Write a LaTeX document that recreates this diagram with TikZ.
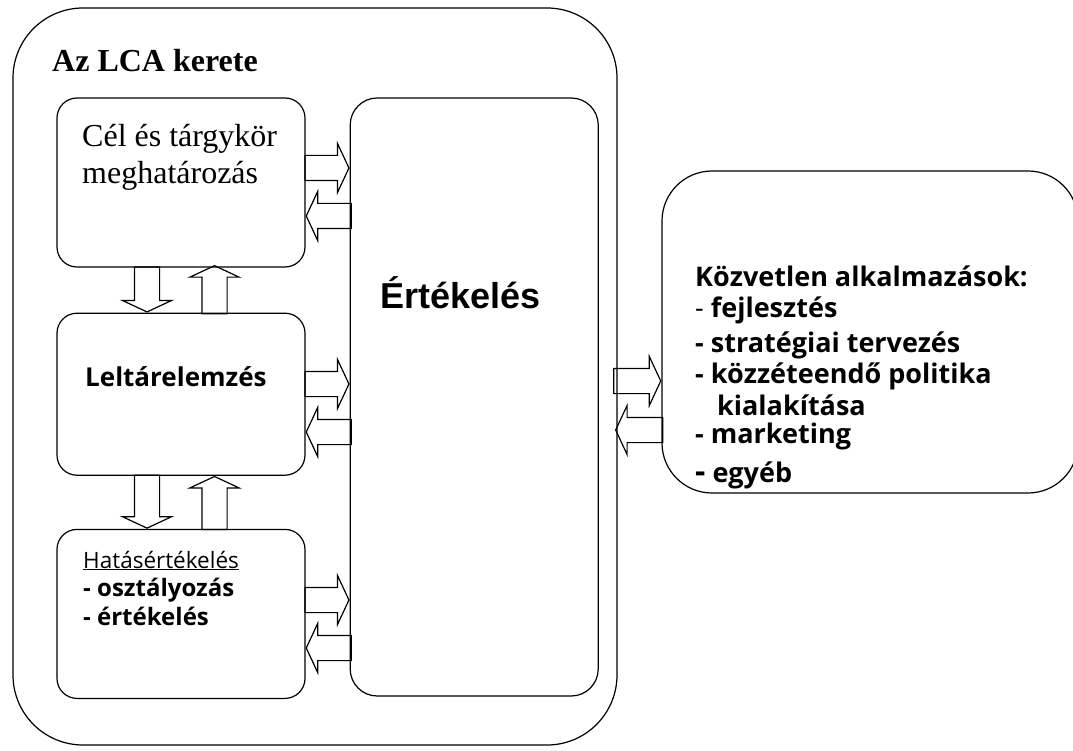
\documentclass[tikz,border=0pt]{standalone}
\usepackage{fontspec}
\setmainfont{Liberation Serif}
\newfontfamily\tahoma{Open Sans}
\newfontfamily\arialf{Liberation Sans}
\usetikzlibrary{shapes.arrows, positioning}
\tikzstyle{frame} = [rectangle, rounded corners=70pt, draw=black, line width=1.2pt, minimum width=604pt, minimum height=737pt]
\tikzstyle{normal} = [rectangle, rounded corners=20pt, draw=black, line width=1.2pt, minimum width=248pt]
\tikzstyle{txt} = [inner sep=0pt, align=left, anchor=base west]
\tikzstyle{fat} = [single arrow, draw=black, line width=1.2pt, inner sep=12pt, single arrow head extend=12pt, single arrow tip angle=130, anchor=tip]

\begin{document}
\begin{tikzpicture}[x=1pt, y=-1pt]
\useasboundingbox (0,0) rectangle (1073,751);

%% NODES

\node (frame) [frame] at (315,376.5) {};
\node (cel) [normal, minimum height=169pt] at (181,182.5) {};
\node (leltar) [normal, minimum height=162pt, below=45pt of cel] {};
\node (hatas) [normal, minimum height=169pt, below=53pt of leltar] {};
\node (ert) [normal, rounded corners=27pt, minimum height=598pt, right=44pt of cel.north east, anchor=north west] {};
\node (kozv) [normal, rounded corners=50pt, minimum width=416pt, minimum height=322pt] at (870,332) {};

% multi-line texts: base = last line
\node (title) [txt, font=\bfseries\fontsize{32}{36}\selectfont] at (52,72) {Az LCA kerete};
\node (celtxt) [txt, font=\fontsize{32}{37}\selectfont] at (82,184) {Cél és tárgykör\\meghatározás};
\node (lelttxt) [txt, font=\tahoma\bfseries\fontsize{26}{28}\selectfont] at (85,386) {Leltárelemzés};
\node (hatastxt) [txt, font=\tahoma\fontsize{24}{28.5}\selectfont] at (83,625) {\underline{\fontsize{22.5}{28.5}\selectfont Hatásértékelés}\\\textbf{- osztályozás}\\\textbf{- értékelés}};
\node (erttxt) [txt, font=\arialf\bfseries\fontsize{36}{40}\selectfont] at (380,308) {Értékelés};
\node (kozvtxt) [txt, font=\tahoma\bfseries\fontsize{27}{31}\selectfont] at (695,482) {Közvetlen alkalmazások:\\{\mdseries -} fejlesztés\\[4pt]- stratégiai tervezés\\- közzéteendő politika\\[1pt]\hspace*{22pt}kialakítása\\[-3pt]- marketing\\[8pt]{\fontsize{32}{31}\selectfont -} egyéb};

%% ARROWS

\node (c2e) [fat, minimum height=44pt] at (ert.west |- 0,168) {};
\node (e2c) [fat, minimum height=45pt, rotate=180] at (cel.east |- 0,216) {};
\node (l2e) [fat, minimum height=44pt] at (ert.west |- 0,384) {};
\node (e2l) [fat, minimum height=45pt, rotate=180] at (leltar.east |- 0,432) {};
\node (h2e) [fat, minimum height=44pt] at (ert.west |- 0,600) {};
\node (e2h) [fat, minimum height=45pt, rotate=180] at (hatas.east |- 0,648) {};

\node (c2l) [fat, minimum height=45pt, rotate=-90] at (147,0 |- leltar.north) {};
\node (l2c) [fat, minimum height=48pt, rotate=90] at (214.5,265) {};
\node (l2h) [fat, minimum height=53pt, rotate=-90] at (147,0 |- hatas.north) {};
\node (h2l) [fat, minimum height=53pt, rotate=90] at (214.5,0 |- leltar.south) {};

\node (e2k) [fat, minimum height=47pt] at (kozv.west |- 0,381) {};
\node (k2e) [fat, minimum height=47pt, rotate=180] at (615,430) {};

\end{tikzpicture}
\end{document}
